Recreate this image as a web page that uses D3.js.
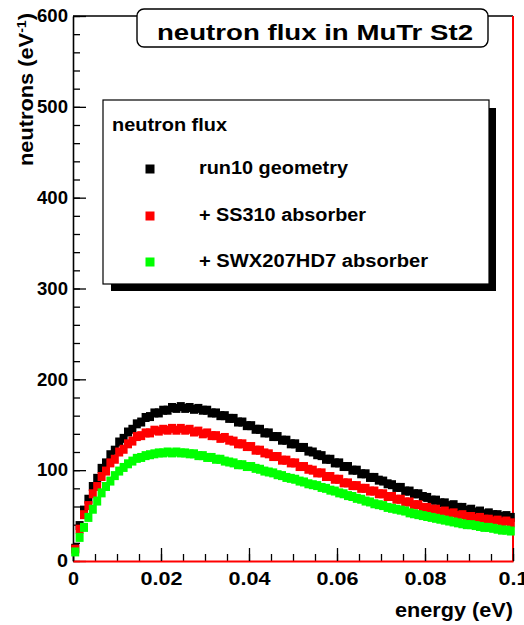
<!DOCTYPE html>
<html lang="en">
  <head>
    <meta charset="UTF-8" />
    <title>neutron flux in MuTr St2</title>
    <style>
      body { margin: 0; background: #fff; }
      text { font-family: 'Liberation Sans', Arial, sans-serif; font-weight: bold; fill: #000; }
    </style>
  </head>
  <body>
    <script src="https://cdn.jsdelivr.net/npm/d3@7"></script>
    <script>
      // histogram: 100 bins of 0.001 eV from 0 to 0.1 eV
      const binWidth = 0.001;

      const run10 = [
        14, 39, 56, 68, 82, 91, 102, 108, 117, 122,
        131, 135, 142, 145, 151, 153, 158, 159, 163, 163,
        166, 166, 169, 168, 170, 168, 169, 167, 168, 166,
        166, 163, 163, 160, 160, 157, 157, 153, 153, 149,
        149, 145, 145, 141, 141, 137, 137, 133, 133, 129,
        129, 125, 125, 121, 120, 117, 116, 112, 112, 108,
        108, 104, 104, 100, 100, 96, 96, 92, 92, 89,
        88, 85, 84, 81, 81, 77, 77, 74, 74, 71,
        70, 67, 67, 64, 64, 61, 62, 59, 59, 56,
        57, 54, 55, 52, 53, 51, 51, 49, 50, 48
      ];

      const ss310 = [
        13, 35, 51, 61, 74, 82, 93, 99, 108, 112,
        120, 123, 129, 132, 137, 138, 141, 141, 144, 143,
        145, 144, 146, 144, 146, 144, 145, 142, 143, 140,
        141, 138, 138, 135, 136, 133, 132, 129, 129, 126,
        126, 122, 122, 119, 118, 115, 115, 111, 111, 108,
        108, 104, 104, 101, 100, 97, 97, 93, 93, 90,
        90, 86, 86, 83, 83, 80, 80, 77, 77, 74,
        74, 71, 71, 68, 68, 65, 65, 62, 62, 59,
        59, 57, 57, 54, 55, 52, 53, 50, 51, 49,
        49, 47, 48, 46, 46, 44, 45, 43, 44, 42
      ];

      const swx207 = [
        10, 26, 37, 48, 57, 66, 75, 82, 88, 94,
        99, 103, 107, 110, 113, 114, 116, 117, 118, 119,
        119, 120, 119, 120, 119, 119, 118, 118, 116, 116,
        114, 114, 112, 112, 110, 109, 108, 106, 106, 104,
        104, 102, 101, 99, 98, 97, 95, 94, 92, 91,
        90, 88, 87, 85, 84, 83, 81, 80, 78, 77,
        75, 74, 72, 71, 69, 68, 66, 65, 63, 62,
        61, 59, 58, 57, 56, 55, 53, 52, 51, 50,
        49, 48, 47, 46, 45, 44, 43, 42, 41, 40,
        40, 39, 38, 37, 37, 36, 35, 34, 34, 33
      ];

      const seriesNames = ['run10 geometry', '+ SS310 absorber', '+ SWX207HD7 absorber'];
      const seriesColors = ['#000000', '#ff0000', '#00ff00'];
      const xTicks = [0, 0.02, 0.04, 0.06, 0.08, 0.1];
      const xTickLabels = ['0', '0.02', '0.04', '0.06', '0.08', '0.1'];
      const yTicks = [0, 100, 200, 300, 400, 500, 600];

      const width = 524;
      const height = 625;
      const margin = { top: 16, right: 11, bottom: 64, left: 73 };

      const svg = d3.select('body').append('svg')
        .attr('width', width)
        .attr('height', height);

      const xScale = d3.scaleLinear()
        .domain([0, 0.1])
        .range([margin.left, width - margin.right]);

      const yScale = d3.scaleLinear()
        .domain([0, 600])
        .range([height - margin.bottom, margin.top]);

      // frame: top black, right red
      svg.append('line')
        .attr('x1', xScale(0)).attr('x2', xScale(0.1))
        .attr('y1', yScale(600)).attr('y2', yScale(600))
        .attr('stroke', '#000').attr('stroke-width', 1.4);
      svg.append('line')
        .attr('x1', xScale(0.1)).attr('x2', xScale(0.1))
        .attr('y1', yScale(600)).attr('y2', yScale(0))
        .attr('stroke', '#ff0000').attr('stroke-width', 2);

      // y axis, ticks pointing inside
      svg.append('g')
        .attr('transform', `translate(${xScale(0)},0)`)
        .call(d3.axisLeft(yScale).tickValues(d3.range(0, 601, 20))
          .tickSize(-7).tickSizeOuter(0).tickFormat(''));
      const yAxisG = svg.append('g')
        .attr('transform', `translate(${xScale(0)},0)`)
        .call(d3.axisLeft(yScale).tickValues(yTicks)
          .tickSize(-13).tickSizeOuter(0).tickPadding(5).tickFormat(d3.format('d')));
      yAxisG.selectAll('text')
        .attr('font-size', 18)
        .attr('textLength', (d) => (d === 0 ? 11 : 31))
        .attr('lengthAdjust', 'spacingAndGlyphs');
      yAxisG.select('.domain').attr('stroke-width', 1.6);

      // x axis
      svg.append('g')
        .attr('transform', `translate(0,${yScale(0)})`)
        .call(d3.axisBottom(xScale).tickValues(d3.range(0, 0.1001, 0.005))
          .tickSize(-7).tickSizeOuter(0).tickFormat(''));
      const xAxisG = svg.append('g')
        .attr('transform', `translate(0,${yScale(0)})`)
        .call(d3.axisBottom(xScale).tickValues(xTicks)
          .tickSize(-13).tickSizeOuter(0).tickPadding(11)
          .tickFormat((d, i) => xTickLabels[i]));
      xAxisG.selectAll('text')
        .attr('font-size', 18)
        .attr('textLength', (d, i) => (i === 0 ? 11 : i === 5 ? 30 : 42))
        .attr('lengthAdjust', 'spacingAndGlyphs');
      xAxisG.select('.domain').attr('stroke', '#ff0000').attr('stroke-width', 2);

      svg.selectAll('.tick line').attr('stroke-width', 1.3);

      // markers
      const series = [run10, ss310, swx207];
      const mw = 8;
      const mh = 9;
      series.forEach((values, s) => {
        svg.append('g')
          .selectAll('rect')
          .data(values)
          .enter()
          .append('rect')
          .attr('x', (d, i) => xScale((i + 0.5) * binWidth) - mw / 2)
          .attr('y', (d) => yScale(d) - mh / 2)
          .attr('width', mw)
          .attr('height', mh)
          .attr('fill', seriesColors[s]);
      });

      // axis titles
      svg.append('text')
        .attr('x', xScale(0.1))
        .attr('y', 617)
        .attr('text-anchor', 'end')
        .attr('font-size', 20)
        .attr('textLength', 118)
        .attr('lengthAdjust', 'spacingAndGlyphs')
        .text('energy (eV)');

      const yTitle = svg.append('text')
        .attr('transform', 'translate(33,13) rotate(-90)')
        .attr('text-anchor', 'end')
        .attr('font-size', 20)
        .attr('textLength', 153)
        .attr('lengthAdjust', 'spacingAndGlyphs');
      yTitle.append('tspan').text('neutrons (eV');
      yTitle.append('tspan').attr('font-size', 13).attr('baseline-shift', 'super').text('-1');
      yTitle.append('tspan').text(')');

      // title box
      svg.append('rect')
        .attr('x', 137).attr('y', 9)
        .attr('width', 351).attr('height', 38)
        .attr('rx', 7)
        .attr('fill', '#fff')
        .attr('stroke', '#000')
        .attr('stroke-width', 1.4);
      svg.append('text')
        .attr('x', 315)
        .attr('y', 40)
        .attr('text-anchor', 'middle')
        .attr('font-size', 22)
        .attr('textLength', 316)
        .attr('lengthAdjust', 'spacingAndGlyphs')
        .text('neutron flux in MuTr St2');

      // legend with shadow
      svg.append('rect')
        .attr('x', 111).attr('y', 108)
        .attr('width', 385).attr('height', 183)
        .attr('fill', '#000');
      svg.append('rect')
        .attr('x', 103).attr('y', 100)
        .attr('width', 386).attr('height', 184)
        .attr('fill', '#fff')
        .attr('stroke', '#000')
        .attr('stroke-width', 1.2);
      svg.append('text')
        .attr('x', 112).attr('y', 131)
        .attr('font-size', 18)
        .attr('textLength', 115)
        .attr('lengthAdjust', 'spacingAndGlyphs')
        .text('neutron flux');

      const legendY = [169, 216, 262];
      const legendLen = [149, 167, 229];
      seriesNames.forEach((name, i) => {
        svg.append('rect')
          .attr('x', 150 - 4.5).attr('y', legendY[i] - 4.5)
          .attr('width', 9).attr('height', 9)
          .attr('fill', seriesColors[i]);
        svg.append('text')
          .attr('x', 199).attr('y', legendY[i] + 5)
          .attr('font-size', 18)
          .attr('textLength', legendLen[i])
          .attr('lengthAdjust', 'spacingAndGlyphs')
          .text(name);
      });
    </script>
  </body>
</html>
